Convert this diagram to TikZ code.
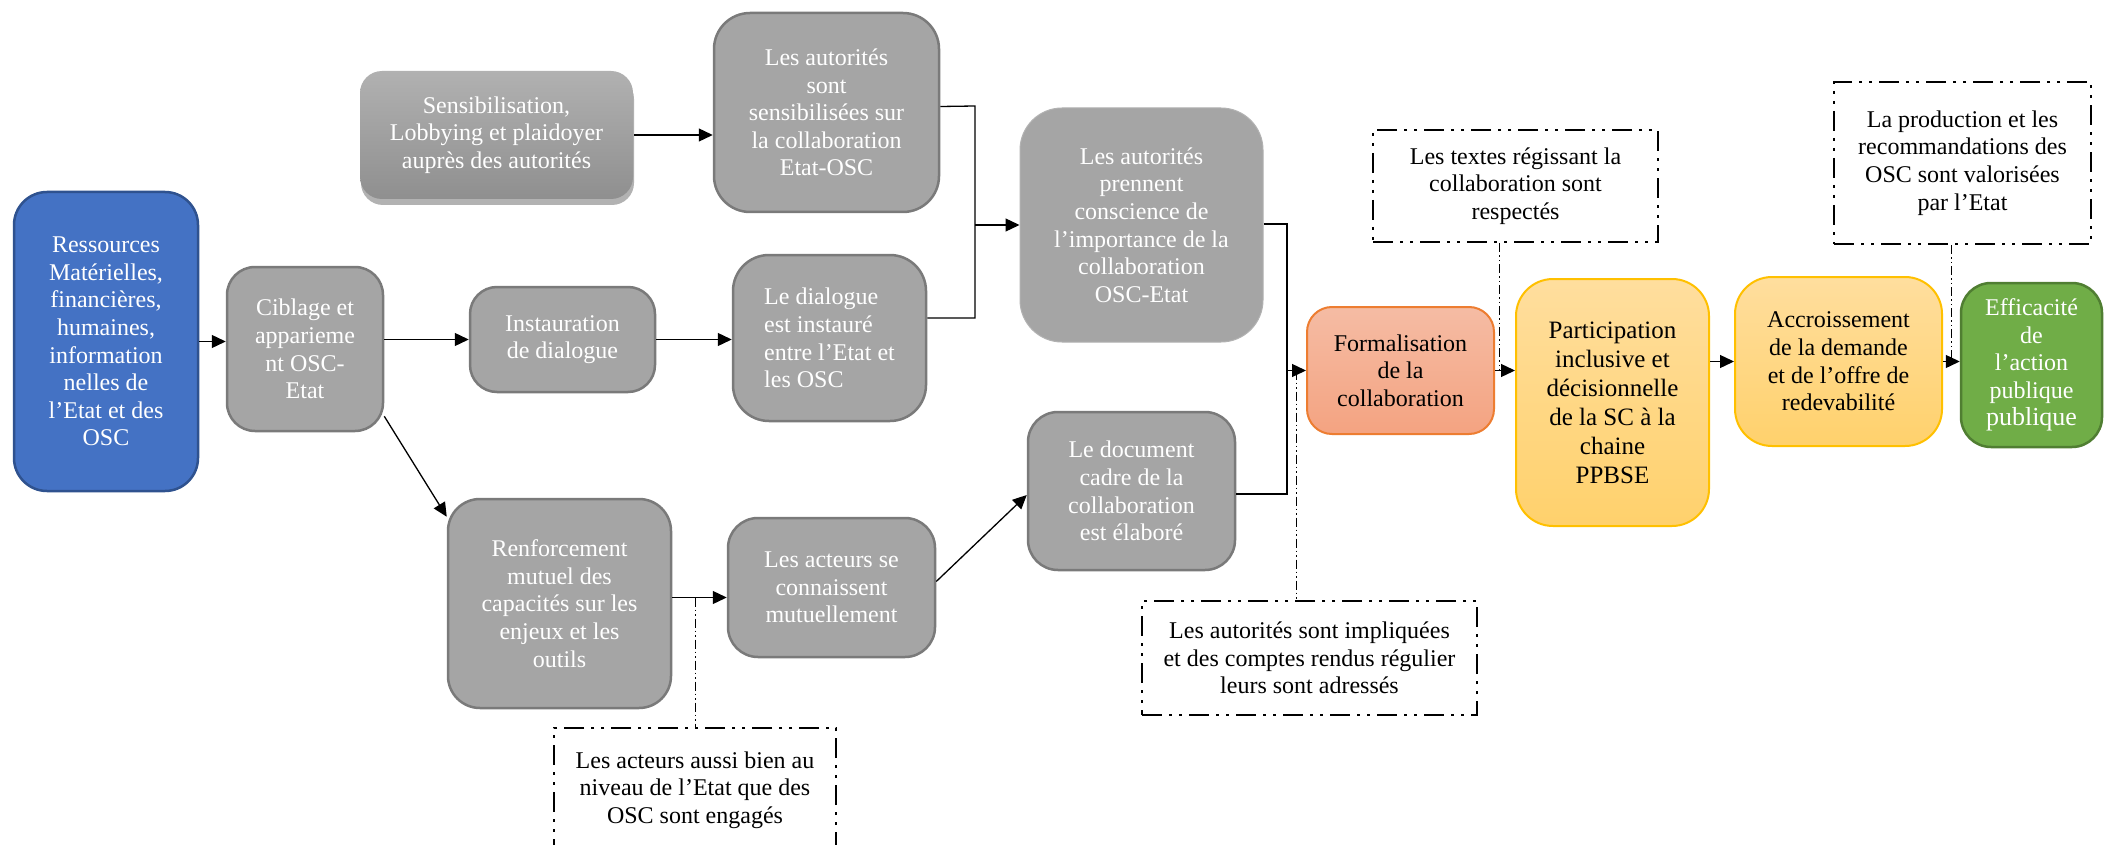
\documentclass[tikz,border=0pt]{standalone}
\usepackage{fontspec}
\setmainfont{Liberation Serif}
\usetikzlibrary{arrows.meta,shadows,calc}
\definecolor{gfill}{HTML}{A5A5A5}
\definecolor{gdraw}{HTML}{7A7A7A}
\definecolor{stop}{HTML}{B1B1B1}
\definecolor{sbot}{HTML}{8F8F8F}
\definecolor{bfill}{HTML}{4472C4}
\definecolor{bdraw}{HTML}{2F528F}
\definecolor{otop}{HTML}{F5BCA4}
\definecolor{obot}{HTML}{F4A381}
\definecolor{odraw}{HTML}{ED7D31}
\definecolor{ytop}{HTML}{FFDE9E}
\definecolor{ybot}{HTML}{FFD16C}
\definecolor{ydraw}{HTML}{FFC000}
\definecolor{gnfill}{HTML}{70AD47}
\definecolor{gndraw}{HTML}{507E32}
\begin{document}
\begin{tikzpicture}[x=1pt,y=-1pt,
  base/.style={inner sep=0pt, align=center, font=\fontsize{24}{27.6}\selectfont, line width=2.5pt},
  grey/.style={base, fill=gfill, draw=gdraw, text=white},
  ln/.style={line width=1.3pt},
  arr/.style={ln, -{Triangle[length=14pt,width=13pt]}},
  dd/.style={line width=1pt, dash pattern=on 9pt off 3pt on 1.5pt off 3pt on 1.5pt off 3pt},
  note/.style={base, draw=black, dash pattern=on 20pt off 7pt on 3pt off 7pt on 3pt off 7pt, text=black},
  orange/.style={base, top color=otop, bottom color=obot, draw=odraw, line width=2pt, text=black},
  yellow/.style={base, top color=ytop, bottom color=ybot, draw=ydraw, line width=2pt, text=black}]
\clip (0,0) rectangle (2104,845);
\fill[white] (0,0) rectangle (2104,845);

% boxes
\node[base, rounded corners=33pt, fill=bfill, draw=bdraw, text=white, minimum width=184pt, minimum height=299pt] (res) at (106,341.5)
  {Ressources\\Matérielles,\\financières,\\humaines,\\information\\nelles de\\l’Etat et des\\OSC};
\node[grey, rounded corners=28pt, minimum width=156pt, minimum height=164pt] (cib) at (305,349)
  {Ciblage et\\apparieme\\nt OSC-\\Etat};
\node[base, rounded corners=22pt, top color=stop, bottom color=sbot, draw=none, text=white,
  drop shadow={shadow xshift=1pt, shadow yshift=-6pt, opacity=0.3, fill=black},
  minimum width=273pt, minimum height=128pt] (sen) at (496.5,135)
  {Sensibilisation,\\Lobbying et plaidoyer\\auprès des autorités};
\node[grey, rounded corners=36pt, minimum width=225pt, minimum height=199pt] (aut) at (826.5,112.5)
  {Les autorités\\sont\\sensibilisées sur\\la collaboration\\Etat-OSC};
\node[grey, rounded corners=27pt, minimum width=185pt, minimum height=105pt] (ins) at (562.5,339.5)
  {Instauration\\de dialogue};
\node[grey, rounded corners=36pt, minimum width=193pt, minimum height=166pt, align=left] (dia) at (829.5,338)
  {Le dialogue\\est instauré\\entre l’Etat et\\les OSC};
\node[grey, rounded corners=42pt, draw=gfill!85!white, line width=1pt, minimum width=243pt, minimum height=234pt] (pre) at (1141.5,225)
  {Les autorités\\prennent\\conscience de\\l’importance de la\\collaboration\\OSC-Etat};
\node[grey, rounded corners=32pt, minimum width=223pt, minimum height=209pt] (ren) at (559.5,603.5)
  {Renforcement\\mutuel des\\capacités sur les\\enjeux et les\\outils};
\node[grey, rounded corners=30pt, minimum width=207pt, minimum height=139pt] (act) at (831.5,587.5)
  {Les acteurs se\\connaissent\\mutuellement};
\node[grey, rounded corners=30pt, minimum width=207pt, minimum height=158pt] (doc) at (1131.5,491)
  {Le document\\cadre de la\\collaboration\\est élaboré};
\node[orange, rounded corners=25pt, minimum width=187pt, minimum height=127pt] (for) at (1400.5,370.5)
  {Formalisation\\de la\\collaboration};
\node[yellow, rounded corners=37pt, minimum width=193pt, minimum height=247pt, font=\fontsize{25}{29}\selectfont] (par) at (1612.5,402.5)
  {Participation\\inclusive et\\décisionnelle\\de la SC à la\\chaine\\PPBSE};
\node[yellow, rounded corners=37pt, minimum width=207pt, minimum height=169pt] (acc) at (1838.5,361.5)
  {Accroissement\\de la demande\\et de l’offre de\\redevabilité};
\node[base, rounded corners=30pt, fill=gnfill, draw=gndraw, text=white, minimum width=141pt, minimum height=164pt] (eff) at (2031.5,365)
  {Efficacité\\de\\l’action\\publique\\{\fontsize{26}{28}\selectfont publique}};

% notes
\node[note, minimum width=282pt, minimum height=124pt] (n1) at (695,790)
  {Les acteurs aussi bien au\\niveau de l’Etat que des\\OSC sont engagés};
\node[note, minimum width=335pt, minimum height=114pt] (n2) at (1309.5,658)
  {Les autorités sont impliquées\\et des comptes rendus régulier\\leurs sont adressés};
\node[note, minimum width=285pt, minimum height=112pt] (n3) at (1515.5,186)
  {Les textes régissant la\\collaboration sont\\respectés};
\node[note, minimum width=257pt, minimum height=162pt] (n4) at (1962.5,163)
  {La production et les\\recommandations des\\OSC sont valorisées\\par l’Etat};

% connectors
\draw[arr] (res.east) -- (res.east -| cib.west);
\draw[arr] (cib.east |- ins.west) -- (ins.west);
\draw[arr] (ins.east) -- (ins.east -| dia.west);
\draw[arr] ([yshift=16pt]cib.south east) -- ([yshift=-19pt]ren.north west);
\draw[arr] (sen.east) -- (sen.east -| aut.west);

\coordinate (j1) at (975,106);
\coordinate (j2) at (975,318);
\draw[ln] ([yshift=6pt]aut.east) -- (j1) -- (j2) -- ([yshift=20pt]dia.east);
\draw[arr] (j1 |- pre.west) -- (pre.west);

\coordinate (k1) at (1287,224);
\coordinate (k2) at (1287,494);
\draw[ln] ([yshift=1pt]pre.east) -- (k1) -- (k2) -- ([yshift=-3pt]doc.east);
\draw[arr] (k1 |- for.west) -- (for.west);

\coordinate (r1) at ($(ren.east)+(0,-6)$);
\draw[arr] (r1) -- (r1 -| act.west);
\draw[arr] ([yshift=6pt]act.east) -- ([yshift=-4pt]doc.west);

\draw[arr] (for.east) -- (for.east -| par.west);
\draw[arr] (par.east |- acc.west) -- (acc.west);
\draw[arr] (acc.east) -- (acc.east -| eff.west);

% dash-dot links
\coordinate (q1) at ($(n3.south)+(-16,0)$);
\draw[dd] (q1) -- (q1 |- for.east);
\coordinate (q2) at ($(for.west)+(-10,0)$);
\draw[dd] (q2) -- (q2 |- n2.north);
\coordinate (q3) at ($(r1)+(23,0)$);
\draw[dd] (q3) -- (q3 |- n1.north);
\coordinate (q4) at ($(n4.south)+(-11,0)$);
\draw[dd] (q4) -- (q4 |- acc.east);
\end{tikzpicture}
\end{document}
